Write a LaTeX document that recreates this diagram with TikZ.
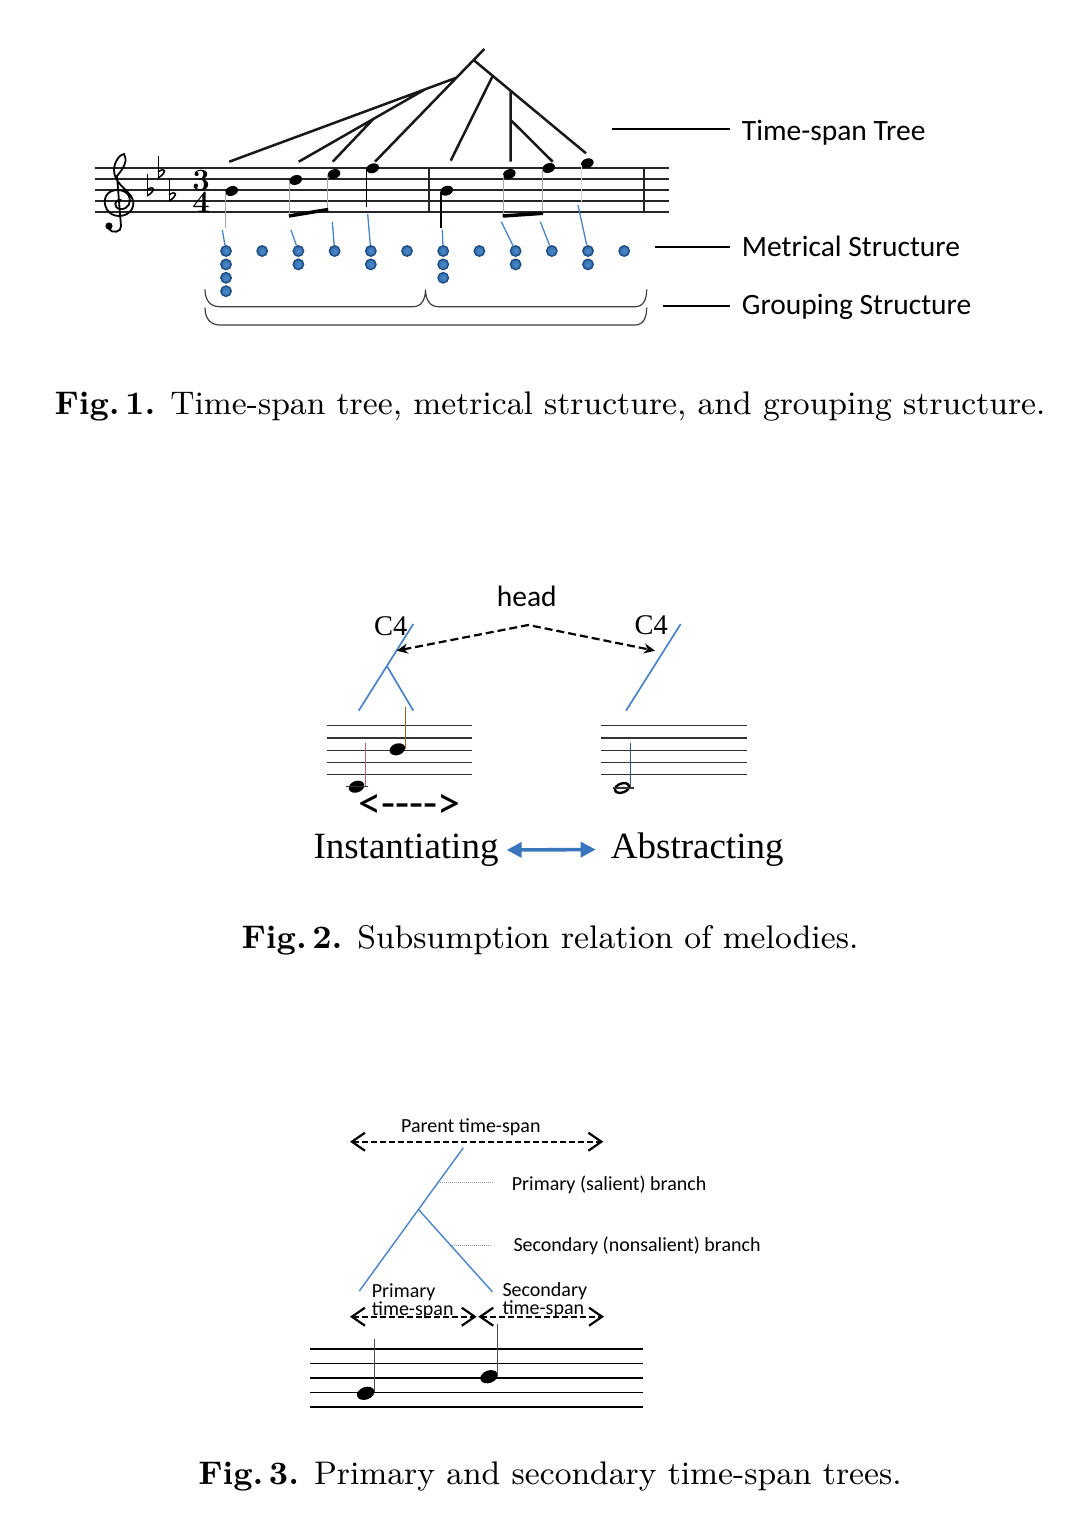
\documentclass[tikz,border=0pt]{standalone}
\usepackage{fontspec}
\newfontfamily\calfont{Carlito}
\newfontfamily\timesfont{Liberation Serif}
\newfontfamily\capfont[BoldFont=lmroman9-bold.otf]{lmroman9-regular.otf}
\usetikzlibrary{arrows.meta,shapes.geometric}

\definecolor{treeblue}{RGB}{74,132,198}
\definecolor{dotblue}{RGB}{47,108,172}
\definecolor{dotlight}{RGB}{78,138,200}
\definecolor{dotedge}{RGB}{30,74,128}
\definecolor{arrowblue}{RGB}{58,118,190}

\tikzset{
  staffline/.style={line width=1.8pt,black!85},
  thinstaff/.style={line width=1.3pt,black!80},
  treeline/.style={line width=2.5pt,black!90},
  blueline/.style={treeblue,line width=1.3pt},
  metdot/.style={circle,inner color=dotlight,outer color=dotblue,draw=dotedge,line width=1.3pt,inner sep=0pt,minimum size=10.5pt},
  fillhead/.style={ellipse,fill=black,inner sep=0pt,minimum width=13pt,minimum height=9.5pt,rotate=20},
  labeltext/.style={font=\calfont\fontsize{29.5}{32}\selectfont,inner sep=0pt,anchor=base west},
  smalltext/.style={font=\calfont\fontsize{20}{16.6}\selectfont,inner sep=0pt,anchor=base west},
  seriftext/.style={font=\timesfont\fontsize{37}{40}\selectfont,inner sep=0pt,anchor=base west},
  captiontext/.style={font=\capfont\fontsize{32.7}{36}\selectfont,inner sep=0pt,anchor=base},
  spanarrow/.style={line width=2.2pt,dash pattern=on 6pt off 3pt,{Straight Barb[length=13pt,width=18pt,line width=2.2pt]}-{Straight Barb[length=13pt,width=18pt,line width=2.2pt]}}
}

\begin{document}
\begin{tikzpicture}[x=1pt,y=-1pt]
\useasboundingbox[fill=white] (0,0) rectangle (1068,1536);

% Fig. 1
\foreach \k in {0,...,4}
  \draw[staffline] (95,168.3+11*\k) -- (669,168.3+11*\k);
\draw[staffline] (429,168.3) -- (429,212.3);
\draw[staffline] (644,168.3) -- (644,212.3);
\draw[line width=1.8pt,line cap=round] (121,200) .. controls (114,199) and (113,208) .. (120,209)
  .. controls (128,210) and (132,202) .. (129,196) .. controls (125,188) and (110,188) .. (106,196)
  .. controls (102,205) and (108,216) .. (119,216) .. controls (131,216) and (137,205) .. (131,196)
  .. controls (125,188) and (114,182) .. (114,170) .. controls (114,162) and (120,154) .. (124,154)
  .. controls (128,160) and (124,168) .. (117,176) -- (121,226) .. controls (122,232) and (112,234) .. (109,229);
\fill (109,226) circle [radius=3.6];
\foreach \fx/\fy in {147/191,158/173,169/196} {
  \draw[line width=1pt] (\fx,\fy-17) -- (\fx,\fy+5);
  \draw[line width=1.5pt] (\fx,\fy+5) .. controls (\fx+9,\fy) and (\fx+8,\fy-7) .. (\fx,\fy-1);
}
\node[font=\bfseries\fontsize{31}{22}\selectfont,inner sep=0pt,align=center] (tsig) at (201,191) {3\\4};

\node[fillhead] (n1) at (231.7,191) {};
\node[fillhead] (n2) at (295.7,180) {};
\node[fillhead] (n3) at (334,174) {};
\node[fillhead] (n4) at (372.7,168.3) {};
\node[fillhead] (n5) at (446.7,190.7) {};
\node[fillhead] (n6) at (509.3,174) {};
\node[fillhead] (n7) at (548.7,168) {};
\node[fillhead] (n8) at (587.3,163.3) {};
\draw[gray!70,line width=1pt] (225.6,192) -- (225.6,228);
\draw[gray!70,line width=1pt] (289.4,181) -- (289.4,216);
\draw[gray!70,line width=1pt] (327.7,175) -- (327.7,209.5);
\draw[black,line width=1.8pt] (366.4,169) -- (366.4,206.7);
\draw[black,line width=1.8pt] (440.6,192) -- (440.6,228);
\draw[gray!70,line width=1pt] (503.2,175) -- (503.2,216);
\draw[gray!70,line width=1pt] (542.6,169) -- (542.6,213.3);
\draw[gray!30,line width=1pt] (581.2,165) -- (581.2,201.7);
\draw[line width=3.5pt] (288.9,216) -- (328.2,209.5);
\draw[line width=3.5pt] (502.7,216) -- (543.1,213.3);

\coordinate (root) at (484.3,49);
\coordinate (J0) at (473.6,60);
\coordinate (A) at (456.5,77.7);
\coordinate (B) at (425,89.4);
\coordinate (C) at (373.3,119);
\coordinate (R1) at (492.7,75.9);
\coordinate (R2) at (510.7,90.8);
\coordinate (R3) at (510.7,120);
\coordinate (t1) at (229.3,161.7);
\coordinate (t2) at (298.7,161.7);
\coordinate (t3) at (332.7,161.7);
\coordinate (t4) at (375,161.7);
\coordinate (t5) at (450.7,160.7);
\coordinate (t6) at (510.7,161.7);
\coordinate (t7) at (552.7,161.7);
\coordinate (t8) at (586,153.3);
\draw[treeline] (root) -- (t4) (A) -- (t1) (B) -- (t2) (C) -- (t3);
\draw[treeline] (J0) -- (t8) (R1) -- (t5) (R2) -- (t6) (R3) -- (t7);

\foreach \i/\n in {0/4,1/1,2/2,3/1,4/2,5/1,6/3,7/1,8/2,9/1,10/2,11/1}
  \foreach \j in {1,...,\n}
    \node[metdot] (dot\i-\j) at (226+36.2*\i,251+13.4*\j-13.4) {};

\coordinate (b1) at (222.3,230);
\coordinate (b2) at (291,230);
\coordinate (b3) at (332.3,221.7);
\coordinate (b4) at (367.7,214);
\coordinate (b5) at (442.3,230);
\coordinate (b6) at (501.3,221.7);
\coordinate (b7) at (540.3,221.7);
\coordinate (b8) at (578,205);
\draw[blueline] (b1) -- (dot0-1) (b2) -- (dot2-1) (b3) -- (dot3-1) (b4) -- (dot4-1);
\draw[blueline] (b5) -- (dot6-1) (b6) -- (dot8-1) (b7) -- (dot9-1) (b8) -- (dot10-1);

\draw[line width=1.2pt,black!75] (205,289.3) .. controls (205,300) and (210,306.7) .. (220,306.7) -- (413.3,306.7)
  .. controls (421,306.7) and (425.5,300) .. (425.5,289.3) .. controls (425.5,300) and (430,306.7) .. (438.3,306.7)
  -- (635,306.7) .. controls (643,306.7) and (646.7,300) .. (646.7,289.3);
\draw[line width=1.2pt,black!75] (205,307.7) .. controls (205,318) and (210,325) .. (220,325) -- (635,325)
  .. controls (643,325) and (646.7,318) .. (646.7,307.7);

\coordinate (tsA) at (611.7,129.3);
\coordinate (tsB) at (730,129.3);
\coordinate (msA) at (655,246.7);
\coordinate (msB) at (730,246.7);
\coordinate (gsA) at (663.3,305.7);
\coordinate (gsB) at (730,305.7);
\draw[line width=1.6pt] (tsA) -- (tsB) (msA) -- (msB) (gsA) -- (gsB);
\node[labeltext] (tslabel) at (741.7,140) {Time-span Tree};
\node[labeltext] (mslabel) at (741.7,256.7) {Metrical Structure};
\node[labeltext] (gslabel) at (741.7,314.3) {Grouping Structure};

\node[captiontext] (cap1) at (550,414) {\textbf{Fig.\,1.} Time-span tree, metrical structure, and grouping structure.};

% Fig. 2
\node[labeltext] (head) at (496.7,606.7) {head};
\node[font=\timesfont\fontsize{28.5}{30}\selectfont,inner sep=0pt,anchor=base west] (c4l) at (374,635) {C4};
\node[font=\timesfont\fontsize{28.5}{30}\selectfont,inner sep=0pt,anchor=base west] (c4r) at (634.3,634) {C4};
\coordinate (lTop) at (413.3,624);
\coordinate (lBot) at (358.7,710.7);
\coordinate (lJoin) at (386.9,666);
\coordinate (lSec) at (413.3,710.7);
\coordinate (rTop) at (680.7,624);
\coordinate (rBot) at (626,710.7);
\draw[treeblue,line width=1.7pt] (lTop) -- (lBot) (lJoin) -- (lSec) (rTop) -- (rBot);
\coordinate (peak) at (528.3,625);
\coordinate (lTip) at (396.7,650.7);
\coordinate (rTip) at (655,650.7);
\draw[line width=2.2pt,dash pattern=on 8pt off 4pt,{Stealth[length=11pt,width=10pt]}-{Stealth[length=11pt,width=10pt]}] (lTip) -- (peak) -- (rTip);

\foreach \k in {0,...,4} {
  \draw[thinstaff] (326.7,725.7+12.25*\k) -- (471.7,725.7+12.25*\k);
  \draw[thinstaff] (601,725.7+12.25*\k) -- (746.7,725.7+12.25*\k);
}
\node[fillhead,minimum width=16pt,minimum height=11.5pt] (na) at (356.5,786.7) {};
\node[fillhead,minimum width=16pt,minimum height=11.5pt] (nb) at (397.3,749.3) {};
\node[ellipse,draw,fill=white,line width=2.4pt,inner sep=0pt,minimum width=14.5pt,minimum height=9pt,rotate=20] (nc) at (622,788) {};
\draw[thinstaff] ([xshift=-11pt]na.center) -- ([xshift=11pt]na.center);
\draw[thinstaff] ([xshift=-9pt]nc.center) -- ([xshift=12pt]nc.center);
\draw[black!50!purple!60,line width=1pt] (365,786) -- (365,743.3);
\draw[brown!80!black,line width=1pt] (405.5,749) -- (405.5,706.7);
\draw[treeblue!70!black,line width=1pt] (630,787) -- (630,743.3);
\node[font=\calfont\fontsize{46}{48}\selectfont,inner sep=0pt] (span) at (409.2,806) {<---->};

\node[seriftext] (inst) at (313.3,858.3) {Instantiating};
\node[seriftext] (abst) at (610.7,858.3) {Abstracting};
\draw[arrowblue,line width=3.6pt,shorten <=8pt,shorten >=15pt,{Triangle[length=15pt,width=15pt]}-{Triangle[length=15pt,width=15pt]}] (inst.east) -- (abst.west);

\node[captiontext] (cap2) at (550,948) {\textbf{Fig.\,2.} Subsumption relation of melodies.};

% Fig. 3
\node[smalltext] (parent) at (401,1132.7) {Parent time-span};
\coordinate (pL) at (350,1141.7);
\coordinate (pR) at (603.3,1141.7);
\draw[spanarrow] (pL) -- (pR);
\coordinate (tTop) at (463.3,1147.7);
\coordinate (tBot) at (359.3,1291);
\coordinate (tJoin) at (418.3,1209.3);
\coordinate (tSec) at (492.3,1291.7);
\draw[treeblue,line width=1.4pt] (tTop) -- (tBot) (tJoin) -- (tSec);
\coordinate (d1A) at (440,1182.7);
\coordinate (d1B) at (492.3,1182.7);
\coordinate (d2A) at (451.7,1245);
\coordinate (d2B) at (490,1245);
\draw[gray!80,line width=1pt,dash pattern=on 1pt off 1pt] (d1A) -- (d1B) (d2A) -- (d2B);
\node[smalltext] (prim) at (511.7,1190) {Primary (salient) branch};
\node[smalltext] (sec) at (513.3,1251.7) {Secondary (nonsalient) branch};
\node[smalltext,anchor=north west,align=left] (primspan) at (371.7,1283.8) {Primary\\time-span};
\node[smalltext,anchor=north west,align=left] (secspan) at (502.3,1282.1) {Secondary\\time-span};
\coordinate (aL) at (350,1316.7);
\coordinate (aM) at (476.7,1316.7);
\coordinate (bM) at (478.3,1316.7);
\coordinate (bR) at (604,1316.7);
\draw[spanarrow] (aL) -- (aM);
\draw[spanarrow] (bM) -- (bR);

\foreach \k in {0,...,4}
  \draw[line width=1.5pt] (310,1349+14.5*\k) -- (642.7,1349+14.5*\k);
\node[fillhead,minimum width=18pt,minimum height=12.5pt] (m1) at (365.7,1393.3) {};
\node[fillhead,minimum width=18pt,minimum height=12.5pt] (m2) at (489,1376.7) {};
\draw[black!70,line width=1.1pt] (374.5,1392) -- (374.5,1339.3);
\draw[black!70,line width=1.1pt] (497.9,1375) -- (497.9,1324);

\node[captiontext] (cap3) at (550,1484) {\textbf{Fig.\,3.} Primary and secondary time-span trees.};
\end{tikzpicture}
\end{document}
